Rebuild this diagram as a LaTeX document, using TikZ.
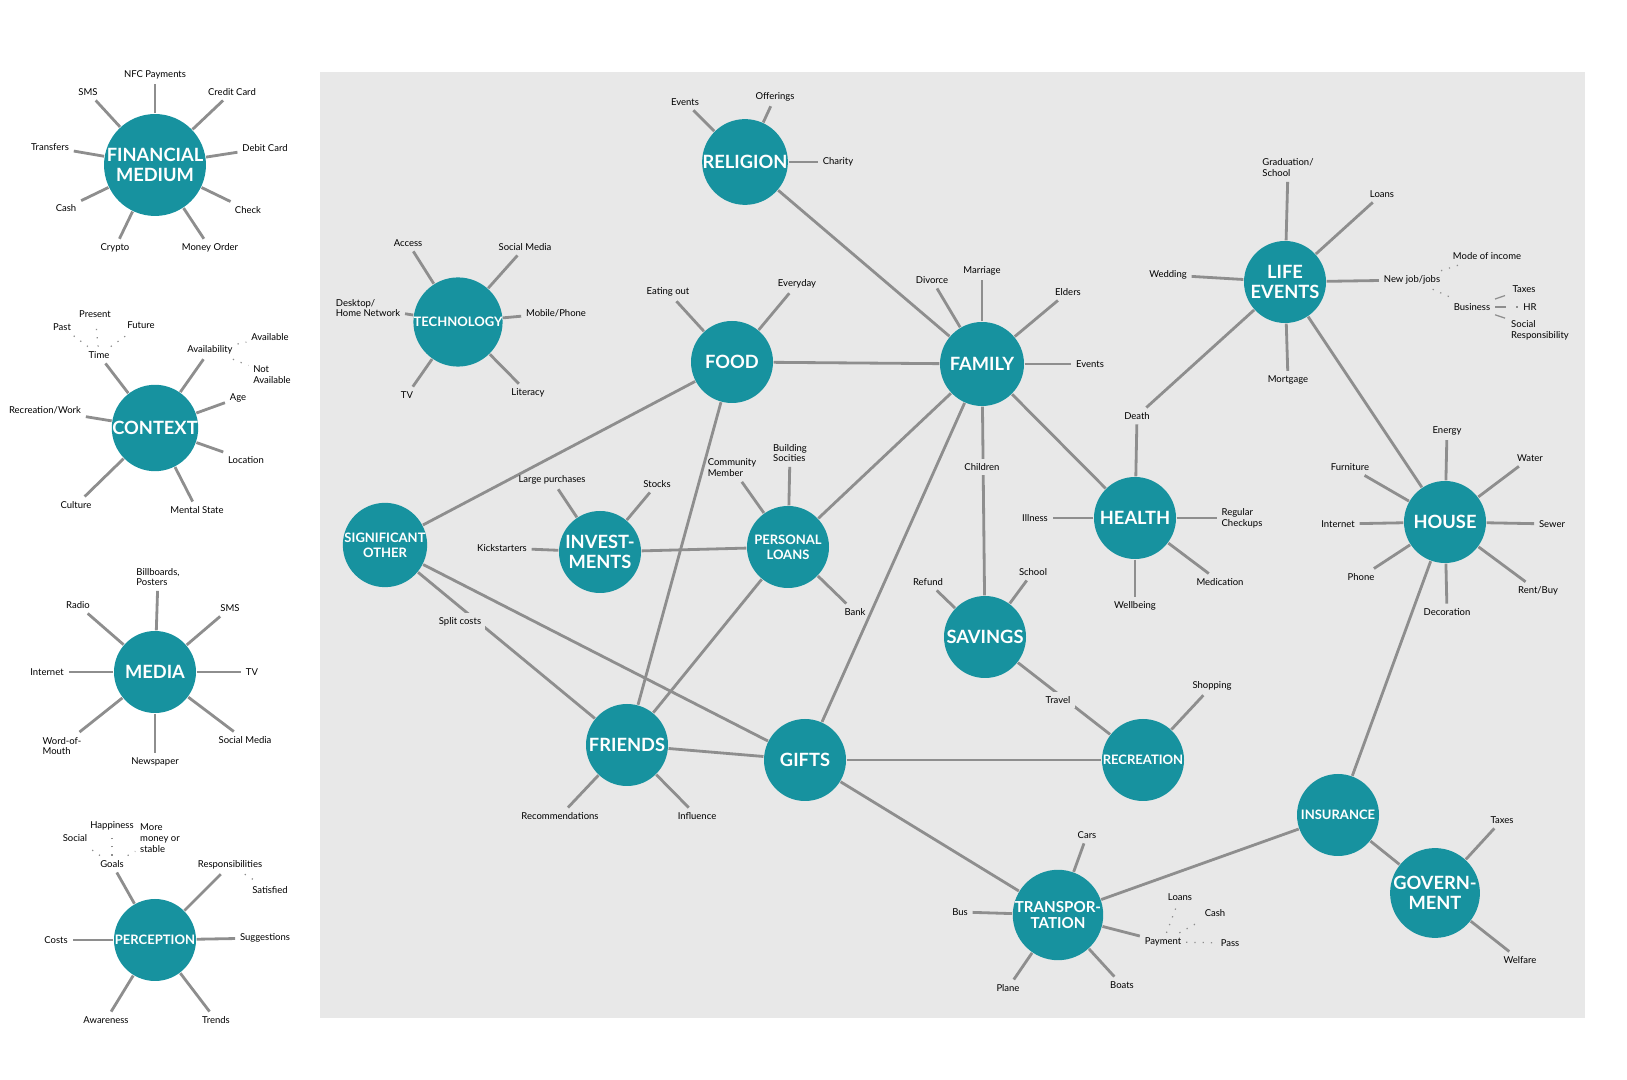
\documentclass[tikz,border=0pt]{standalone}
\usepackage{fontspec}
\setmainfont{Lato}
\begin{document}
\begin{tikzpicture}[x=0.01cm,y=-0.01cm,
 hub/.style={circle,fill=teal0,minimum size=82*0.01cm,inner sep=0pt,text=white,font=\fontsize{5.2}{5.6}\selectfont\bfseries,align=center},
 hubs/.style={hub,font=\fontsize{3.7}{4.2}\selectfont\bfseries},
 lbl/.style={font=\fontsize{2.7}{3.1}\selectfont,inner sep=1.2pt,align=left},
 ln/.style={draw=lineg,line width=0.8pt},
 dt/.style={draw=lineg,line width=0.35pt,dotted},
 ds/.style={draw=lineg,line width=0.35pt,dashed},
 onl/.style={lbl,fill=bgg}]
\definecolor{teal0}{HTML}{17929F}
\definecolor{lineg}{HTML}{8E8E8E}
\definecolor{bgg}{HTML}{E8E8E8}
\newcommand\spk[4]{\node[lbl] (#2) at (#3) {#4}; \draw[ln] (#1) -- (#2);}
\useasboundingbox (0,0) rectangle (1627,1080);
\fill[bgg] (320,72) rectangle (1585,1018);
% ---------- left column
\node[hub] (fin) at (155,165) {FINANCIAL\\MEDIUM};
\spk{fin}{f1}{155,75}{NFC Payments}
\spk{fin}{f2}{88,92}{SMS}
\spk{fin}{f3}{232,92}{Credit Card}
\spk{fin}{f4}{50,147}{Transfers}
\spk{fin}{f5}{265,148}{Debit Card}
\spk{fin}{f6}{66,208}{Cash}
\spk{fin}{f7}{248,210}{Check}
\spk{fin}{f8}{115,248}{Crypto}
\spk{fin}{f9}{210,248}{Money Order}
\node[hub] (ctx) at (155,428) {CONTEXT};
\spk{ctx}{c1}{99,355}{Time}
\node[lbl] (c1a) at (62,327) {Past}; \draw[dt] (c1) -- (c1a);
\node[lbl] (c1b) at (95,314) {Present}; \draw[dt] (c1) -- (c1b);
\node[lbl] (c1c) at (141,325) {Future}; \draw[dt] (c1) -- (c1c);
\spk{ctx}{c2}{210,350}{Availability}
\node[lbl] (c2a) at (270,337) {Available}; \draw[dt] (c2) -- (c2a);
\node[lbl] (c2b) at (272,375) {Not\\Available}; \draw[dt] (c2) -- (c2b);
\spk{ctx}{c3}{238,398}{Age}
\spk{ctx}{c4}{45,410}{Recreation/Work}
\spk{ctx}{c5}{246,460}{Location}
\spk{ctx}{c6}{76,505}{Culture}
\spk{ctx}{c7}{197,510}{Mental State}
\node[hub] (med) at (155,672) {MEDIA};
\spk{med}{m1}{158,577}{Billboards,\\Posters}
\spk{med}{m2}{78,605}{Radio}
\spk{med}{m3}{230,608}{SMS}
\spk{med}{m4}{47,672}{Internet}
\spk{med}{m5}{252,672}{TV}
\spk{med}{m6}{62,746}{Word-of-\\Mouth}
\spk{med}{m7}{245,740}{Social Media}
\spk{med}{m8}{155,762}{Newspaper}
\node[hubs] (per) at (155,940) {PERCEPTION};
\spk{per}{p1}{112,864}{Goals}
\node[lbl] (p1a) at (75,838) {Social}; \draw[dt] (p1) -- (p1a);
\node[lbl] (p1b) at (112,826) {Happiness}; \draw[dt] (p1) -- (p1b);
\node[lbl] (p1c) at (160,838) {More\\money or\\stable}; \draw[dt] (p1) -- (p1c);
\spk{per}{p2}{230,865}{Responsibilities}
\node[lbl] (p2a) at (270,890) {Satisfied}; \draw[dt] (p2) -- (p2a);
\spk{per}{p3}{56,940}{Costs}
\spk{per}{p4}{265,938}{Suggestions}
\spk{per}{p5}{106,1020}{Awareness}
\spk{per}{p6}{216,1020}{Trends}
% ---------- main hubs
\node[hub] (rel) at (745,162) {RELIGION};
\node[hubs] (tec) at (458,322) {TECHNOLOGY};
\node[hub] (food) at (732,362) {FOOD};
\node[hub,minimum size=84*0.01cm] (fam) at (982,364) {FAMILY};
\node[hub] (life) at (1285,282) {LIFE\\EVENTS};
\node[hubs] (so) at (385,545) {SIGNIFICANT\\OTHER};
\node[hub] (inv) at (600,552) {INVEST-\\MENTS};
\node[hubs] (pl) at (788,547) {PERSONAL\\LOANS};
\node[hub] (hea) at (1135,518) {HEALTH};
\node[hub] (hou) at (1445,522) {HOUSE};
\node[hub] (sav) at (985,637) {SAVINGS};
\node[hubs] (rec) at (1143,760) {RECREATION};
\node[hub] (fri) at (627,745) {FRIENDS};
\node[hub] (gif) at (805,760) {GIFTS};
\node[hubs] (ins) at (1338,815) {INSURANCE};
\node[hub] (gov) at (1435,893) {GOVERN-\\MENT};
\node[hubs,font=\fontsize{4.3}{4.8}\selectfont\bfseries] (tra) at (1058,915) {TRANSPOR-\\TATION};
% ---------- hub links
\draw[ln] (rel) -- (fam);
\draw[ln] (food) -- (fam);
\draw[ln] (food) -- (so);
\draw[ln] (food) -- (fri);
\draw[ln] (fam) -- (pl);
\draw[ln] (fam) -- (gif);
\draw[ln] (fam) -- (hea);
\draw[ln] (fam) -- (sav);
\draw[ln] (life) -- (hou);
\draw[ln] (hou) -- (ins);
\draw[ln] (ins) -- (gov);
\draw[ln] (ins) -- (tra);
\draw[ln] (gif) -- (tra);
\draw[ln] (gif) -- (rec);
\draw[ln] (fri) -- (gif);
\draw[ln] (fri) -- (pl);
\draw[ln] (so) -- (gif);
\draw[ln] (so) -- (fri);
\draw[ln] (inv) -- (pl);
\draw[ln] (sav) -- (rec);
\node[onl] (chl) at (982,467) {Children};
\node[onl] (spl) at (460,622) {Split costs};
\node[onl] (trv) at (1058,700) {Travel};
% ---------- spokes main
\spk{rel}{r1}{685,102}{Events}
\spk{rel}{r2}{775,97}{Offerings}
\spk{rel}{r3}{838,162}{Charity}
\spk{tec}{t1}{408,243}{Access}
\spk{tec}{t2}{525,247}{Social Media}
\spk{tec}{t3}{368,308}{Desktop/\\Home Network}
\spk{tec}{t4}{556,313}{Mobile/Phone}
\spk{tec}{t5}{407,395}{TV}
\spk{tec}{t6}{528,393}{Literacy}
\spk{food}{fo1}{668,292}{Eating out}
\spk{food}{fo2}{797,284}{Everyday}
\spk{fam}{fa1}{932,280}{Divorce}
\spk{fam}{fa2}{982,271}{Marriage}
\spk{fam}{fa3}{1068,292}{Elders}
\spk{fam}{fa4}{1090,364}{Events}
\spk{life}{l1}{1288,168}{Graduation/\\School}
\spk{life}{l2}{1382,194}{Loans}
\spk{life}{l3}{1168,275}{Wedding}
\spk{life}{l4}{1412,280}{New job/jobs}
\spk{life}{l5}{1288,380}{Mortgage}
\node[lbl] (l4a) at (1487,256) {Mode of income}; \draw[dt] (l4) -- (l4a);
\node[lbl] (l4b) at (1472,307) {Business}; \draw[dt] (l4) -- (l4b);
\node[lbl] (l4c) at (1524,289) {Taxes}; \draw[ds] (l4b) -- (l4c);
\node[lbl] (l4d) at (1530,307) {HR}; \draw[ds] (l4b) -- (l4d);
\node[lbl] (l4e) at (1540,330) {Social\\Responsibility}; \draw[ds] (l4b) -- (l4e);
\spk{inv}{i1}{552,480}{Large purchases}
\spk{inv}{i2}{657,484}{Stocks}
\spk{inv}{i3}{502,548}{Kickstarters}
\spk{pl}{pl1}{732,468}{Community\\Member}
\spk{pl}{pl2}{790,453}{Building\\Socities}
\spk{pl}{pl3}{855,612}{Bank}
\spk{hea}{h1}{1137,416}{Death}
\draw[ln] (life) -- (h1);
\spk{hea}{h2}{1035,518}{Illness}
\spk{hea}{h3}{1242,518}{Regular\\Checkups}
\spk{hea}{h4}{1220,582}{Medication}
\spk{hea}{h5}{1135,606}{Wellbeing}
\spk{hou}{ho1}{1447,431}{Energy}
\spk{hou}{ho2}{1350,467}{Furniture}
\spk{hou}{ho3}{1530,458}{Water}
\spk{hou}{ho4}{1338,524}{Internet}
\spk{hou}{ho5}{1552,524}{Sewer}
\spk{hou}{ho6}{1361,577}{Phone}
\spk{hou}{ho7}{1538,591}{Rent/Buy}
\spk{hou}{ho8}{1447,612}{Decoration}
\spk{sav}{s1}{928,582}{Refund}
\spk{sav}{s2}{1033,572}{School}
\spk{rec}{re1}{1212,686}{Shopping}
\spk{fri}{fr1}{560,816}{Recommendations}
\spk{fri}{fr2}{697,816}{Influence}
\spk{gov}{g1}{1502,820}{Taxes}
\spk{gov}{g2}{1520,960}{Welfare}
\spk{tra}{tr1}{1087,835}{Cars}
\spk{tra}{tr2}{960,912}{Bus}
\spk{tra}{tr3}{1008,988}{Plane}
\spk{tra}{tr4}{1122,985}{Boats}
\spk{tra}{tr5}{1163,942}{Payment}
\node[lbl] (tr5a) at (1180,897) {Loans}; \draw[dt] (tr5) -- (tr5a);
\node[lbl] (tr5b) at (1215,913) {Cash}; \draw[dt] (tr5) -- (tr5b);
\node[lbl] (tr5c) at (1230,943) {Pass}; \draw[dt] (tr5) -- (tr5c);
\end{tikzpicture}
\end{document}
